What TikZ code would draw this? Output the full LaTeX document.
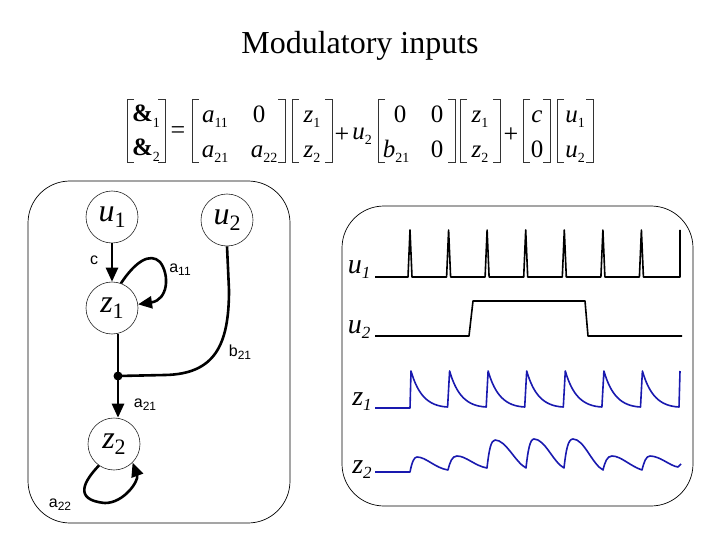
\documentclass[tikz,border=0pt]{standalone}
\usepackage{fontspec}
\setmainfont{Liberation Serif}
\newfontfamily\arial{Liberation Sans}
\usetikzlibrary{arrows.meta}
\definecolor{sigblue}{RGB}{25,25,175}
\newcommand{\cirlab}[2]{\fontsize{32}{32}\selectfont\textit{#1}\raisebox{-6pt}{\fontsize{22}{22}\selectfont #2}}
\newcommand{\sglab}[2]{\fontsize{28}{28}\selectfont\textit{#1}\raisebox{-5pt}{\fontsize{17}{17}\selectfont\textit{#2}}}
\newcommand{\edlab}[2]{{\arial\fontsize{16}{16}\selectfont #1\raisebox{-3pt}{\fontsize{12}{12}\selectfont #2}}}
\newcommand{\ev}[2]{\textit{#1}\raisebox{-5pt}{\fontsize{14}{14}\selectfont #2}}
\newcommand{\amp}[1]{\textbf{\&}\raisebox{-6pt}{\fontsize{14}{14}\selectfont #1}}
\begin{document}
\begin{tikzpicture}[x=1pt,y=-1pt,
  state/.style={circle,draw=black!85,line width=0.6pt,minimum size=52pt,inner sep=0pt},
  panel/.style={draw=black,line width=0.7pt,rounded corners=42pt},
  conn/.style={line width=2.6pt},
  arr/.style={conn,-{Triangle[length=14pt,width=12pt]}},
  sig/.style={line width=1.6pt,line join=round},
  bsig/.style={line width=1.6pt,draw=sigblue,line join=round},
  eqt/.style={anchor=base,inner sep=0pt,font=\fontsize{25}{25}\selectfont},
  eqs/.style={inner sep=0pt,font=\fontsize{26}{26}\selectfont},
  brk/.style={draw=black!80,line width=1pt}]
\useasboundingbox (0,0) rectangle (720,540);
% title
\node (title) at (360,46) {\fontsize{32}{32}\selectfont Modulatory inputs};
% equation: brackets
\draw[brk] (134,100) -- (127,100) -- (127,163) -- (134,163);
\draw[brk] (158,100) -- (165,100) -- (165,163) -- (158,163);
\draw[brk] (199,100) -- (192,100) -- (192,163) -- (199,163);
\draw[brk] (278,100) -- (285,100) -- (285,163) -- (278,163);
\draw[brk] (299,100) -- (292,100) -- (292,163) -- (299,163);
\draw[brk] (325,100) -- (332,100) -- (332,163) -- (325,163);
\draw[brk] (385,100) -- (378,100) -- (378,163) -- (385,163);
\draw[brk] (448,100) -- (455,100) -- (455,163) -- (448,163);
\draw[brk] (467,100) -- (460,100) -- (460,163) -- (467,163);
\draw[brk] (493,100) -- (500,100) -- (500,163) -- (493,163);
\draw[brk] (530,100) -- (523,100) -- (523,163) -- (530,163);
\draw[brk] (543,100) -- (550,100) -- (550,163) -- (543,163);
\draw[brk] (564,100) -- (557,100) -- (557,163) -- (564,163);
\draw[brk] (586,100) -- (593,100) -- (593,163) -- (586,163);
% equation: entries
\node[eqt] (d1) at (146,122) {\amp{1}};
\node[eqt] (d2) at (146,156) {\amp{2}};
\node[eqs] (eqsign) at (178,133) {=};
\node[eqt] (a11) at (215,123) {\ev{a}{11}};
\node[eqt] (a12) at (259,123) {0};
\node[eqt] (a21) at (215,158) {\ev{a}{21}};
\node[eqt] (a22) at (264,158) {\ev{a}{22}};
\node[eqt] (za1) at (312,123) {\ev{z}{1}};
\node[eqt] (za2) at (312,158) {\ev{z}{2}};
\node[eqs] (plus1) at (342,135) {+};
\node[eqt] (mu2) at (362,140) {\ev{u}{2}};
\node[eqt] (b11) at (400,123) {0};
\node[eqt] (b12) at (437,123) {0};
\node[eqt] (b21) at (396,158) {\ev{b}{21}};
\node[eqt] (b22) at (437,158) {0};
\node[eqt] (zb1) at (480,123) {\ev{z}{1}};
\node[eqt] (zb2) at (480,158) {\ev{z}{2}};
\node[eqs] (plus2) at (511,135) {+};
\node[eqt] (cc) at (537,123) {\textit{c}};
\node[eqt] (c0) at (537,158) {0};
\node[eqt] (ub1) at (575,123) {\ev{u}{1}};
\node[eqt] (ub2) at (575,158) {\ev{u}{2}};
% left panel
\draw[panel] (28,181) rectangle (290,523);
\node[state] (u1) at (112,217) {\cirlab{u}{1}};
\node[state] (u2) at (227,220) {\cirlab{u}{2}};
\node[state] (z1) at (112,308) {\cirlab{z}{1}};
\node[state] (z2) at (114,444) {\cirlab{z}{2}};
\coordinate (j) at (118,376);
\draw[arr] (u1) -- (z1);
\draw[arr] (z1.70) .. controls (135,262) and (150,252) .. (160,262) .. controls (170,275) and (168,300) .. (z1.8);
\draw[conn] (j |- z1.south) -- (j);
\draw[conn] (u2.south) -- (229,290) .. controls (229,345) and (215,374) .. (165,375) -- (j);
\fill (j) circle (4.5pt);
\draw[arr] (j) -- (j |- z2.north);
\draw[arr] (z2.235) .. controls (85,480) and (72,500) .. (105,503) to[out=0,in=-70] (z2.-45);
\node (lc) at (94,262) {\edlab{c}{}};
\node (la11) at (180,270) {\edlab{a}{11}};
\node (lb21) at (240,352) {\edlab{b}{21}};
\node (la21) at (145,405) {\edlab{a}{21}};
\node (la22) at (60,505) {\edlab{a}{22}};
% right panel
\draw[panel] (342,206) rectangle (693,506);
\node (su1) at (359,270) {\sglab{u}{1}};
\node (su2) at (359,330) {\sglab{u}{2}};
\node (sz1) at (362,402) {\sglab{z}{1}};
\node (sz2) at (362,470) {\sglab{z}{2}};
\draw[sig] (375,277) -- (408,277) -- (410,230) -- (412,277)
  -- (446.6,277) -- (448.6,230) -- (450.6,277)
  -- (485.1,277) -- (487.1,230) -- (489.1,277)
  -- (523.7,277) -- (525.7,230) -- (527.7,277)
  -- (562.3,277) -- (564.3,230) -- (566.3,277)
  -- (600.9,277) -- (602.9,230) -- (604.9,277)
  -- (639.4,277) -- (641.4,230) -- (643.4,277)
  -- (680,277) -- (680,230);
\draw[sig] (375,336) -- (469,336) -- (473,301) -- (585,301) -- (588,336) -- (682,336);
\draw[bsig] (375,408) -- (410,408)
  \foreach \s in {410,448.6,487.1,525.7,564.3,602.9,641.4} {
    -- (\s+1,371) .. controls (\s+8,395) and (\s+18,406) .. (\s+37.6,407)
  } -- (680,371);
\draw[bsig] (375,472) -- (410,472)
  .. controls (412,462) and (414,457) .. (417,457) .. controls (426,457) and (435,468) .. (448,470)
  .. controls (450,462) and (452,456) .. (457,456) .. controls (466,456) and (475,466) .. (487,468)
  .. controls (489,450) and (491,440) .. (495,440) .. controls (506,440) and (515,462) .. (526,468)
  .. controls (528,450) and (530,439) .. (534,439) .. controls (545,439) and (553,462) .. (564,468)
  .. controls (566,450) and (568,439) .. (573,439) .. controls (584,439) and (592,464) .. (603,470)
  .. controls (605,462) and (607,456) .. (612,456) .. controls (621,456) and (630,466) .. (642,470)
  .. controls (644,462) and (646,456) .. (650,456) .. controls (660,456) and (670,466) .. (678,467)
  -- (681,464);
\end{tikzpicture}
\end{document}
